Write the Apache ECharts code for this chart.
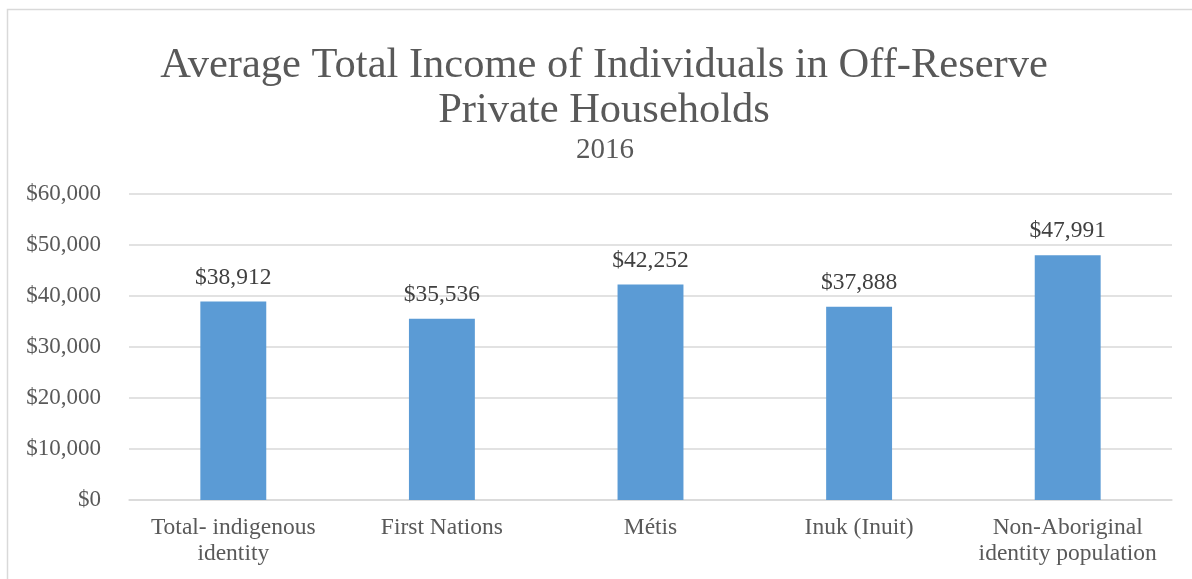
<!DOCTYPE html>
<html><head><meta charset="utf-8">
<script src="https://cdn.jsdelivr.net/npm/echarts@6/dist/echarts.min.js"></script>
<style>html,body{margin:0;padding:0;background:#fff}#c{width:1192px;height:579px}</style>
</head><body><div id="c"></div>
<script>
const categories = ["Total- indigenous\nidentity", "First Nations", "Métis", "Inuk (Inuit)", "Non-Aboriginal\nidentity population"];
const incomes = [38912, 35536, 42252, 37888, 47991];
const yTicks = [0, 10000, 20000, 30000, 40000, 50000, 60000];
const titleLines = ["Average Total Income of Individuals in Off-Reserve", "Private Households"];
const subtitle = "2016";

const fmt = v => "$" + v.toLocaleString("en-US");
const font = "'Liberation Serif', 'Times New Roman', serif";
const chart = echarts.init(document.getElementById('c'));
chart.setOption({
  animation: false,
  textStyle: { fontFamily: font },
  graphic: [{
    type: 'rect', shape: { x: 7.5, y: 9.5, width: 1300, height: 700 },
    style: { fill: 'none', stroke: '#d9d9d9', lineWidth: 1.5 }, silent: true, z: -1
  }],
  title: [{
    text: titleLines.join("\n"),
    left: 599, top: 38, textAlign: 'center',
    textStyle: { fontFamily: font, fontSize: 42.5, fontWeight: 'normal', color: '#595959', lineHeight: 45 }
  }, {
    text: subtitle,
    left: 600, top: 131, textAlign: 'center',
    textStyle: { fontFamily: font, fontSize: 29, fontWeight: 'normal', color: '#595959' }
  }],
  grid: { left: 129, right: 20, top: 194, bottom: 79, containLabel: false },
  xAxis: {
    type: 'category', data: categories,
    axisLine: { show: true, lineStyle: { color: '#d9d9d9', width: 1.5 } },
    axisTick: { show: false },
    axisLabel: { fontFamily: font, fontSize: 23.5, color: '#595959', lineHeight: 26, margin: 15, interval: 0 }
  },
  yAxis: {
    type: 'value', min: yTicks[0], max: yTicks[yTicks.length - 1], interval: 10000,
    axisLine: { show: false }, axisTick: { show: false },
    splitLine: { lineStyle: { color: '#d9d9d9', width: 1.5 } },
    axisLabel: { fontFamily: font, fontSize: 23, color: '#595959', formatter: fmt, margin: 28 }
  },
  series: [{
    type: 'bar', data: incomes, barWidth: '31.6%',
    itemStyle: { color: '#5b9bd5' },
    label: { show: true, position: 'top', distance: 12, formatter: p => fmt(p.value),
      fontFamily: font, fontSize: 23.5, color: '#404040' }
  }]
});
</script></body></html>
